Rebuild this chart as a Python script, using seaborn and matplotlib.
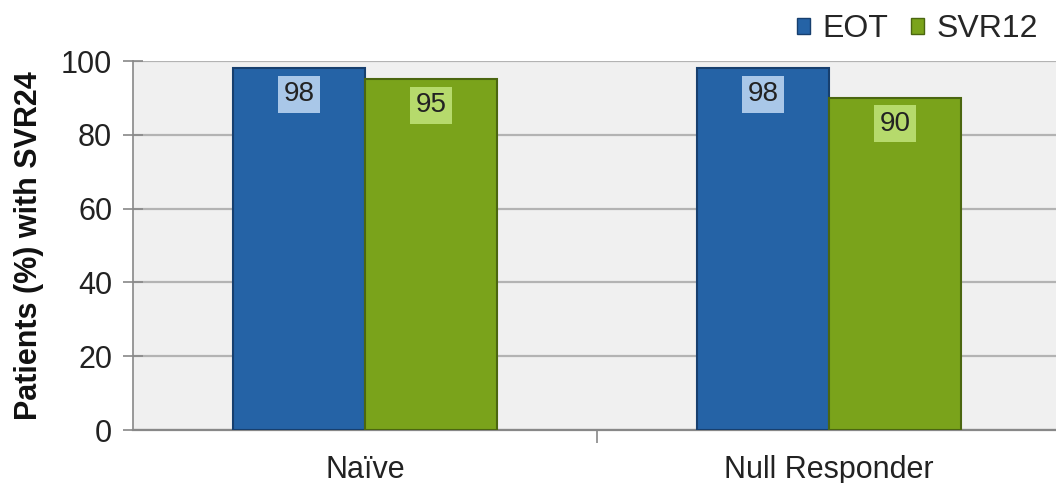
import matplotlib
matplotlib.use("Agg")
import matplotlib.pyplot as plt
from matplotlib.patches import Patch
from matplotlib.ticker import FixedLocator
import pandas as pd
import seaborn as sns

# Data
categories = ["Naïve", "Null Responder"]
series_names = ["EOT", "SVR12"]
eot_values = [98, 98]
svr12_values = [95, 90]
y_ticks = [0, 20, 40, 60, 80, 100]

bar_colors = ["#2563a6", "#7aa31b"]
edge_colors = ["#173f6e", "#4b6610"]
label_box_colors = ["#a9c7e8", "#b6da6c"]

df = pd.DataFrame({
    "group": categories * 2,
    "series": [series_names[0]] * len(categories) + [series_names[1]] * len(categories),
    "value": eot_values + svr12_values,
})

sns.set_theme(style="white")
plt.rcParams["font.family"] = ["Liberation Sans", "DejaVu Sans"]

fig = plt.figure(figsize=(10.56, 4.83), dpi=100)
ax = fig.add_axes([0.126, 0.1097, 0.879, 0.764])
ax.set_facecolor("#f0f0f0")

sns.barplot(data=df, x="group", y="value", hue="series", order=categories,
            hue_order=series_names, palette=bar_colors, width=0.57,
            saturation=1, ax=ax, legend=False, zorder=3)

for container, ec, bc in zip(ax.containers, edge_colors, label_box_colors):
    for bar in container:
        bar.set_edgecolor(ec)
        bar.set_linewidth(1.5)
        h = bar.get_height()
        ax.text(bar.get_x() + bar.get_width() / 2, h - 7.0, f"{h:.0f}",
                ha="center", va="center", fontsize=20, color="#222222",
                zorder=5,
                bbox=dict(boxstyle="square,pad=0.2", facecolor=bc,
                          edgecolor="none"))

ax.set_ylim(0, 100)
ax.set_xlim(-0.5, 1.5)
ax.set_yticks(y_ticks)
ax.set_yticklabels([str(t) for t in y_ticks], fontsize=22, color="#222222")
ax.yaxis.grid(True, color="#b3b3b3", linewidth=1.6, zorder=0)
ax.set_axisbelow(True)

ax.set_xticks(range(len(categories)))
ax.set_xticklabels(categories, fontsize=22, color="#222222")
ax.xaxis.set_minor_locator(FixedLocator([0.5]))
ax.tick_params(axis="x", which="major", length=0, pad=18)
ax.tick_params(axis="x", which="minor", length=9, width=1.2, color="#888888",
               direction="out", bottom=True)
ax.tick_params(axis="y", which="major", length=14, width=1.2, color="#888888",
               direction="inout", left=True, pad=8)

ax.set_xlabel("")
ax.set_ylabel("Patients (%) with SVR24", fontsize=22, fontweight="bold",
              color="#111111", labelpad=12)

for side in ["top", "right"]:
    ax.spines[side].set_visible(False)
ax.spines["left"].set_color("#888888")
ax.spines["left"].set_linewidth(1.2)
ax.spines["bottom"].set_color("#888888")
ax.spines["bottom"].set_linewidth(1.6)

handles = [Patch(facecolor=c, edgecolor=e, label=n)
           for c, e, n in zip(bar_colors, edge_colors, series_names)]
fig.legend(handles=handles, loc="upper right", bbox_to_anchor=(1.01, 1.03),
           ncol=2, frameon=False, fontsize=23, handlelength=0.4,
           handleheight=0.4, handletextpad=0.4, columnspacing=0.7)

fig.savefig("out.png", dpi=100, facecolor="white")
